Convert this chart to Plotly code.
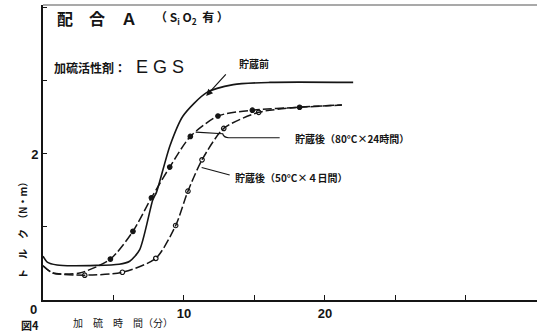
import plotly.graph_objects as go

# Cure time (min) vs torque (N·m) for compound A with EGS activator
# Unstored compound (smooth curve, no measured points drawn)
before_x = [0.0, 0.3, 1.0, 2.1, 5.4, 6.15, 6.86, 7.8, 8.04, 9.0, 9.93, 11.6, 13.5, 16.1, 22.0]
before_y = [0.60, 0.52, 0.48, 0.47, 0.49, 0.53, 0.69, 1.38, 1.47, 2.11, 2.52, 2.84, 2.95, 2.98, 2.98]

# Stored 80°C x 24 h
s80_x = [0.0, 0.7, 2.6, 4.78, 6.38, 7.69, 8.99, 10.45, 12.41, 14.85, 18.2, 21.2]
s80_y = [0.47, 0.37, 0.37, 0.56, 0.94, 1.40, 1.82, 2.24, 2.52, 2.60, 2.64, 2.67]
s80_measured = [False, False, False, True, True, True, True, True, True, True, True, False]

# Stored 50°C x 4 days
s50_x = [0.0, 0.7, 2.96, 5.63, 8.0, 9.41, 10.28, 11.28, 12.82, 15.3, 18.2, 21.2]
s50_y = [0.47, 0.37, 0.34, 0.38, 0.57, 1.02, 1.49, 1.92, 2.35, 2.57, 2.64, 2.67]
s50_measured = [False, False, True, True, True, True, True, True, True, True, False, False]

x_label_ticks = [10, 20]
x_tick_text = ["<b>10</b>", "<b>20</b>"]
y_label_ticks = [2]
y_tick_text = ["<b>2</b>"]

INK = "#151515"
JP = "Noto Sans CJK JP"

fig = go.Figure()

fig.add_trace(go.Scatter(x=before_x, y=before_y, mode="lines",
                         line=dict(color=INK, width=1.6, shape="spline", smoothing=0.7),
                         showlegend=False, hoverinfo="skip"))


def stored_series(xs, ys, flags, symbol):
    fig.add_trace(go.Scatter(x=xs, y=ys, mode="lines",
                             line=dict(color=INK, width=1.5, shape="spline", smoothing=0.7,
                                       dash="9px,3px"),
                             showlegend=False, hoverinfo="skip"))
    mx = [x for x, f in zip(xs, flags) if f]
    my = [y for y, f in zip(ys, flags) if f]
    fig.add_trace(go.Scatter(x=mx, y=my, mode="markers",
                             marker=dict(symbol=symbol, size=4.5, color=INK,
                                         line=dict(color=INK, width=1.2)),
                             showlegend=False, hoverinfo="skip"))


stored_series(s80_x, s80_y, s80_measured, "circle")
stored_series(s50_x, s50_y, s50_measured, "circle-open")

X_MAX = 35.04
Y_MAX = 4.04


# plot area in pixels: left 43, right 537, top 5, bottom 300
def pp_x(p):
    return (p - 43.0) / 494.0


def pp_y(p):
    return (300.0 - p) / 295.0


def px_x(p):
    return (p - 43.3) / 14.1


def px_y(p):
    return (300.5 - p) / 73.0


annotations = []


def text(px, py, s, size, xanchor="left", angle=0, font=JP):
    annotations.append(dict(x=pp_x(px), y=pp_y(py), xref="paper", yref="paper", text=s,
                            showarrow=False, xanchor=xanchor, yanchor="middle",
                            textangle=angle, font=dict(family=font, size=size, color=INK)))


# Heading
text(55, 18, "<b>配　合　Ａ</b>", 16)
text(153, 18, "<b>（ S<sub>i</sub> O<sub>2</sub>  有 ）</b>", 12)
text(52, 67, "<b>加硫活性剤：</b>", 12)
text(134, 67, "E G S", 18, font="Liberation Sans")

# Curve labels
text(237, 63, "<b>貯蔵前</b>", 10)
text(293, 138, "<b>貯蔵後（80°C×24時間）</b>", 10)
text(233, 177, "<b>貯蔵後（50°C×４日間）</b>", 10)

# Axis captions
text(22, 228, "<b>ト　ル　ク　（N・m）</b>", 10, xanchor="center", angle=-90)
text(33, 309, "<b>0</b>", 13, xanchor="center", font="Liberation Sans")
text(19, 325, "<b>図4</b>", 11)
text(71, 322, "加　硫　時　間（分）", 10)

# Arrow to the unstored curve
annotations.append(dict(x=px_x(206.5), y=px_y(96.5), xref="x", yref="y", text="",
                        showarrow=True, arrowhead=2, arrowsize=1.1, arrowwidth=1.2,
                        arrowcolor=INK, ax=21, ay=-23))

shapes = [
    # leader for 80°C label
    dict(type="path", xref="x", yref="y",
         path=f"M {px_x(280)},{px_y(138.3)} L {px_x(229)},{px_y(138.3)} "
              f"Q {px_x(224)},{px_y(138)} {px_x(223)},{px_y(134.3)} L {px_x(196)},{px_y(132.7)}",
         line=dict(color=INK, width=1.2)),
    # leader for 50°C label
    dict(type="line", xref="x", yref="y", x0=px_x(230), y0=px_y(175.5),
         x1=px_x(202), y1=px_y(168), line=dict(color=INK, width=1.2)),
    # frame top edge
    dict(type="line", xref="paper", yref="paper", x0=0, x1=1, y0=1, y1=1,
         line=dict(color="#555", width=1.2)),
]

fig.update_layout(
    width=537, height=332,
    margin=dict(l=43, r=0, t=5, b=32),
    paper_bgcolor="white", plot_bgcolor="white",
    annotations=annotations, shapes=shapes,
    xaxis=dict(range=[0, X_MAX], showgrid=False, zeroline=False, showline=True,
               linecolor=INK, linewidth=2, ticks="inside", ticklen=5, tickwidth=1.2,
               tickcolor=INK, tickvals=x_label_ticks, ticktext=x_tick_text,
               minor=dict(ticks="inside", tick0=0, dtick=5, ticklen=5, tickwidth=1.2,
                          tickcolor=INK, showgrid=False),
               tickfont=dict(family="Liberation Sans", size=13, color=INK)),
    yaxis=dict(range=[0, Y_MAX], showgrid=False, zeroline=False, showline=True,
               linecolor=INK, linewidth=2, ticks="inside", ticklen=4, tickwidth=1.2,
               tickcolor=INK, tickvals=y_label_ticks, ticktext=y_tick_text,
               minor=dict(ticks="inside", tick0=0, dtick=1, ticklen=4, tickwidth=1.2,
                          tickcolor=INK, showgrid=False),
               tickfont=dict(family="Liberation Sans", size=13, color=INK)),
)

fig.write_html("out.html")
